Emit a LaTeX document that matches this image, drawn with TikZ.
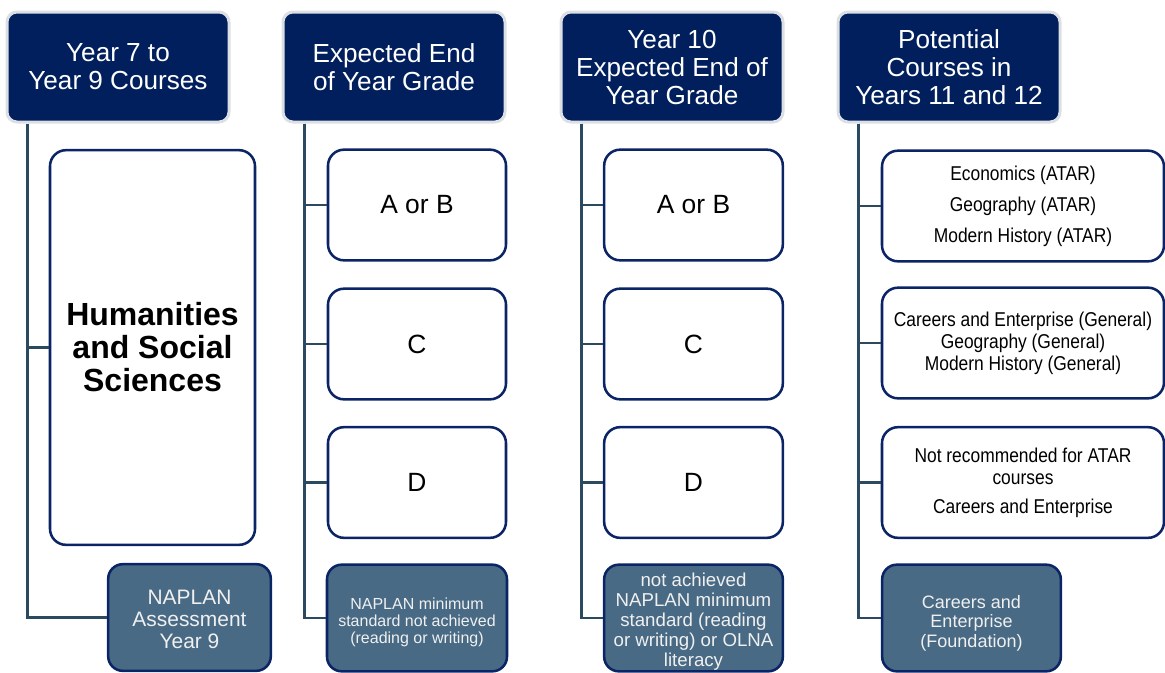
\documentclass[tikz,border=0pt]{standalone}
\usepackage{fontspec}
\setmainfont{Liberation Sans}
\newfontfamily\narrowfont{Liberation Sans}[FakeStretch=0.87]
\definecolor{navy}{HTML}{001F5C}
\definecolor{hdredge}{HTML}{DCE0E5}
\definecolor{boxedge}{HTML}{0B2466}
\definecolor{slate}{HTML}{486A84}
\definecolor{connc}{HTML}{2C4A5F}
\newcommand{\fs}[2]{\fontsize{#1}{#2}\selectfont}
\begin{document}
\begin{tikzpicture}[x=0.75pt,y=-0.75pt,
  hdr/.style={rectangle,rounded corners=7.5pt,fill=navy,draw=hdredge,line width=2.25pt,
    text=white,align=center,inner sep=0pt,minimum width=166.5pt,minimum height=82.5pt},
  wbox/.style={rectangle,rounded corners=12pt,fill=white,draw=boxedge,line width=1.9pt,
    text=black,align=center,inner sep=0pt},
  sbox/.style={rectangle,rounded corners=11pt,fill=slate,draw=boxedge,line width=1.9pt,
    inner sep=0pt,minimum height=80pt},
  stext/.style={align=center,inner sep=0pt,text=white!94!black},
  conn/.style={draw=connc,line width=2.2pt},
  hfont/.style={font=\fs{19.6pt}{21pt}},
  gfont/.style={font=\fs{19.8pt}{21pt}}]
\useasboundingbox (0,0) rectangle (1165,672);

% column headers
\node[hdr,hfont] (h1) at (118,67) {Year 7 to\\Year 9 Courses};
\node[hdr,hfont] (h2) at (394,67) {Expected End\\of Year Grade};
\node[hdr,hfont] (h3) at (672,67) {Year 10\\Expected End of\\Year Grade};
\node[hdr,hfont] (h4) at (949,67) {Potential\\Courses in\\Years 11 and 12};

% trunk start points
\coordinate (t1) at ([xshift=16.5pt]h1.south west);
\coordinate (t2) at ([xshift=17.5pt]h2.south west);
\coordinate (t3) at ([xshift=16.5pt]h3.south west);
\coordinate (t4) at ([xshift=16.5pt]h4.south west);

% column 1
\node[wbox,minimum width=153.75pt,minimum height=296pt,font=\bfseries\fs{24pt}{24.75pt}]
  (c1a) at (152.5,347.5) {Humanities\\and Social\\Sciences};
\node[sbox,minimum width=122pt] (c1n) at (189.5,617.5) {};
\node[stext,font=\fs{15.7pt}{16.5pt}] (c1nt) at ([yshift=-1.5pt]c1n.center)
  {NAPLAN\\Assessment\\Year 9};

% column 2
\node[wbox,gfont,minimum width=133.5pt,minimum height=83pt] (c2a) at (417,205) {A or B};
\node[wbox,gfont,minimum width=133.5pt,minimum height=83pt] (c2b) at (417,344) {C};
\node[wbox,gfont,minimum width=133.5pt,minimum height=83pt] (c2c) at (417,482.5) {D};
\node[sbox,minimum width=135pt] (c2n) at (417,618) {};
\node[stext,font=\fs{12pt}{12.75pt}] (c2nt) at ([yshift=-3pt]c2n.center)
  {NAPLAN minimum\\standard not achieved\\(reading or writing)};

% column 3
\node[wbox,gfont,minimum width=134pt,minimum height=83pt] (c3a) at (693.5,205) {A or B};
\node[wbox,gfont,minimum width=134pt,minimum height=83pt] (c3b) at (693.5,344) {C};
\node[wbox,gfont,minimum width=134pt,minimum height=83pt] (c3c) at (693.5,482.5) {D};
\node[sbox,minimum width=134pt] (c3n) at (693.5,618) {};
\node[stext,font=\fs{14pt}{15pt}] (c3nt) at ([yshift=-2.6pt]c3n.center)
  {not achieved\\NAPLAN minimum\\standard (reading\\or writing) or OLNA\\literacy};

% column 4
\node[wbox,minimum width=211.5pt,minimum height=83pt,font=\narrowfont\fs{15pt}{23.2pt}]
  (c4a) at (1023,206) {Economics (ATAR)\\Geography (ATAR)\\Modern History (ATAR)};
\node[wbox,minimum width=211.5pt,minimum height=83pt,font=\narrowfont\fs{15pt}{16.5pt}]
  (c4b) at (1023,343) {Careers and Enterprise (General)\\Geography (General)\\Modern History (General)};
\node[wbox,minimum width=211.5pt,minimum height=83pt,font=\narrowfont\fs{15pt}{16.5pt}]
  (c4c) at (1023,482.5) {Not recommended for ATAR\\courses\\[5.5pt]Careers and Enterprise};
\node[sbox,minimum width=134pt] (c4n) at (971.5,618) {};
\node[stext,font=\fs{13.5pt}{14.6pt}] (c4nt) at ([yshift=-3.75pt]c4n.center)
  {Careers and\\Enterprise\\(Foundation)};

% connectors from each trunk to its boxes
\draw[conn] (t1) |- (c1a.west);
\draw[conn] (t1) |- (c1n.west);
\draw[conn] (t2) |- (c2a.west);
\draw[conn] (t2) |- (c2b.west);
\draw[conn] (t2) |- (c2c.west);
\draw[conn] (t2) |- (c2n.west);
\draw[conn] (t3) |- (c3a.west);
\draw[conn] (t3) |- (c3b.west);
\draw[conn] (t3) |- (c3c.west);
\draw[conn] (t3) |- (c3n.west);
\draw[conn] (t4) |- (c4a.west);
\draw[conn] (t4) |- (c4b.west);
\draw[conn] (t4) |- (c4c.west);
\draw[conn] (t4) |- (c4n.west);
\end{tikzpicture}
\end{document}
